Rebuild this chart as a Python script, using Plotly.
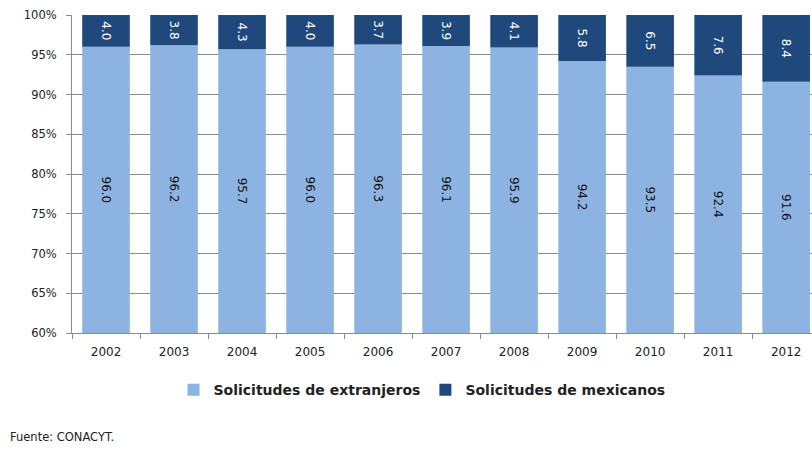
import plotly.graph_objects as go

years = ["2002", "2003", "2004", "2005", "2006", "2007", "2008", "2009", "2010", "2011", "2012"]
extranjeros = [96.0, 96.2, 95.7, 96.0, 96.3, 96.1, 95.9, 94.2, 93.5, 92.4, 91.6]
mexicanos = [4.0, 3.8, 4.3, 4.0, 3.7, 3.9, 4.1, 5.8, 6.5, 7.6, 8.4]
y_min = 60
y_ticks = [60, 65, 70, 75, 80, 85, 90, 95, 100]
y_tick_labels = [f"{t}%" for t in y_ticks]

LIGHT = "#8DB3E2"
DARK = "#1F497D"
FONT = "DejaVu Sans"

fig = go.Figure()
fig.add_trace(go.Bar(
    x=years,
    y=[v - y_min for v in extranjeros],
    base=[y_min] * len(years),
    name="Solicitudes de extranjeros",
    marker=dict(color=LIGHT, line=dict(width=0)),
    text=[f"{v:.1f}" for v in extranjeros],
    textposition="inside",
    insidetextanchor="middle",
    textangle=90,
    constraintext="none",
    insidetextfont=dict(family=FONT, size=12, color="#111111"),
    hoverinfo="skip",
))
fig.add_trace(go.Bar(
    x=years,
    y=mexicanos,
    base=extranjeros,
    name="Solicitudes de mexicanos",
    marker=dict(color=DARK, line=dict(width=0)),
    text=[f"{v:.1f}" for v in mexicanos],
    textposition="inside",
    insidetextanchor="middle",
    textangle=90,
    constraintext="none",
    insidetextfont=dict(family=FONT, size=12, color="#FFFFFF"),
    hoverinfo="skip",
))

fig.update_layout(
    width=812, height=451,
    margin=dict(l=72, r=0, t=15, b=118),
    barmode="overlay",
    bargap=0.3,
    plot_bgcolor="white",
    paper_bgcolor="white",
    font=dict(family=FONT, size=10, color="#222222"),
    showlegend=True,
    legend=dict(
        orientation="h", x=0.473, xanchor="center", y=-0.18, yanchor="middle",
        font=dict(family=FONT, size=14, color="#222222", weight="bold"),
        itemwidth=30, tracegroupgap=0,
    ),
)
fig.update_xaxes(
    type="category",
    range=[-0.5, 10.38],
    automargin=False,
    showline=True, linecolor="#8C8C8C", linewidth=1,
    ticks="outside", ticklen=5, tickcolor="#8C8C8C",
    tickson="boundaries",
    ticklabelstandoff=8,
    showgrid=False,
    tickfont=dict(family=FONT, size=12, color="#222222"),
)
fig.update_yaxes(
    range=[60, 100],
    automargin=False,
    tickvals=y_ticks, ticktext=y_tick_labels,
    showline=True, linecolor="#8C8C8C", linewidth=1,
    ticks="outside", ticklen=5, tickcolor="#8C8C8C",
    ticklabelstandoff=7,
    showgrid=True, gridcolor="#8C8C8C", gridwidth=1,
    zeroline=False,
    tickfont=dict(family=FONT, size=11.5, color="#222222"),
)
fig.add_annotation(
    text="Fuente: CONACYT.", xref="paper", yref="paper",
    x=-0.0865, y=-0.327, xanchor="left", yanchor="middle",
    showarrow=False, font=dict(family=FONT, size=11.5, color="#222222"),
)

fig.write_html("out.html", config={"displayModeBar": False},
               post_script="document.body.style.margin='0';")
